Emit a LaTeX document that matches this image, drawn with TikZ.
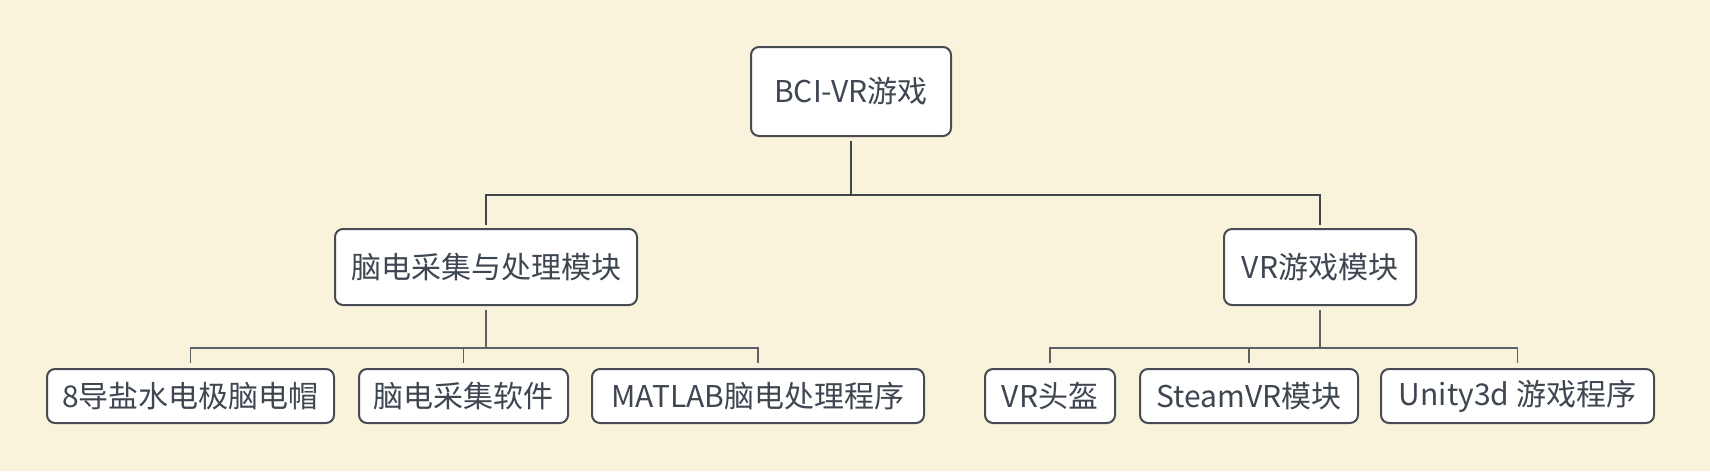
\documentclass[tikz,border=0pt]{standalone}
\usepackage{fontspec}
\setmainfont{Noto Sans CJK SC}
\definecolor{bgc}{HTML}{FAF3DC}
\definecolor{edgec}{HTML}{474C54}
\definecolor{txtc}{HTML}{3E4651}
\definecolor{busc}{HTML}{40454D}
\definecolor{leafbusc}{HTML}{5C6168}
\begin{document}
\begin{tikzpicture}[x=1pt,y=-1pt,
  box/.style={draw=edgec, line width=2pt, fill=white, rounded corners=8pt,
    text=txtc, font=\fontsize{30}{36}\selectfont, inner sep=0pt, anchor=center},
  bus/.style={draw=busc, line width=2.6pt, shorten <=4pt, shorten >=3pt},
  leafbus/.style={draw=leafbusc, line width=1.4pt, shorten <=4pt, shorten >=5pt}]
\fill[bgc] (0,0) rectangle (1710,471);
\useasboundingbox (0,0) rectangle (1710,471);
\node[box, minimum width=200pt, minimum height=89pt] (root) at (851,91.5) {BCI-VR游戏};
\node[box, minimum width=302pt, minimum height=76pt] (eeg) at (486,267) {脑电采集与处理模块};
\node[box, minimum width=192pt, minimum height=76pt] (vr) at (1320,267) {VR游戏模块};
\node[box, minimum width=287pt, minimum height=54pt] (l1) at (190.5,396) {8导盐水电极脑电帽};
\node[box, minimum width=209pt, minimum height=54pt] (l2) at (463.5,396) {脑电采集软件};
\node[box, minimum width=332pt, minimum height=54pt] (l3) at (758,396) {MATLAB脑电处理程序};
\node[box, minimum width=130pt, minimum height=54pt] (r1) at (1050,396) {VR头盔};
\node[box, minimum width=218pt, minimum height=54pt] (r2) at (1249,396) {SteamVR模块};
\node[box, minimum width=273pt, minimum height=54pt] (r3) at (1517.5,396) {Unity3d 游戏程序};
\draw[bus] (root.south) -- ++(0,58) -| (eeg.north);
\draw[bus] (root.south) -- ++(0,58) -| (vr.north);
\foreach \t in {l1,l2,l3} \draw[leafbus] (eeg.south) -- ++(0,42) -| (\t.north);
\foreach \t in {r1,r2,r3} \draw[leafbus] (vr.south) -- ++(0,42) -| (\t.north);
\end{tikzpicture}
\end{document}
